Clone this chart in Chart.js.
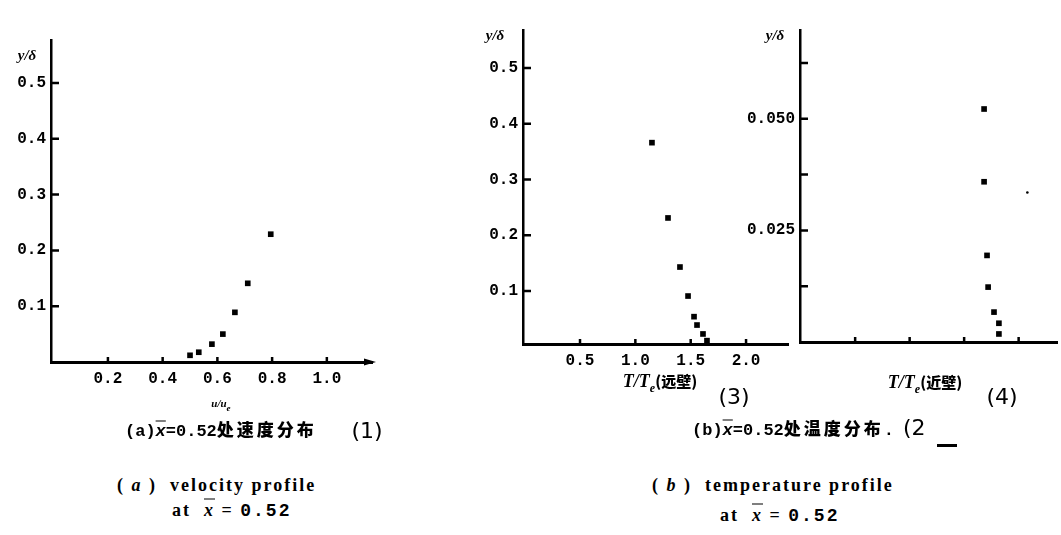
<!DOCTYPE html>
<html>
<head>
<meta charset="utf-8">
<script src="https://cdn.jsdelivr.net/npm/chart.js@4"></script>
<style>
    body { margin: 0; background: #fff; }
    #fig { position: relative; width: 1061px; height: 535px; overflow: hidden; background: #fff; }
    #fig canvas { position: absolute; top: 0; }
    .t { position: absolute; white-space: nowrap; color: #000; line-height: 1; transform: translateY(-50%); }
    .c { transform: translate(-50%, -50%); }
    .lab { font: bold italic 15px "Liberation Serif", serif; }
    .cap { font: bold 17px "Liberation Mono", monospace; }
    .cjk { font-family: "Noto Sans CJK SC", sans-serif; font-weight: 900; font-style: normal; }
    .cap .cjk { letter-spacing: 3px; }
    .num { font: 22px "DejaVu Sans", sans-serif; }
    .eng { font: bold 18px "Liberation Serif", serif; letter-spacing: 2px; }
    .ov { text-decoration: overline; font-style: italic; }
</style>
</head>
<body>
<div id="fig">
    <canvas id="velChart" width="385" height="400" style="left:0px"></canvas>
    <canvas id="farChart" width="365" height="400" style="left:430px"></canvas>
    <canvas id="nearChart" width="361" height="400" style="left:700px"></canvas>

    <div class="t c lab" style="left:27px; top:55px">y/δ</div>
    <div class="t c lab" style="left:495px; top:35px">y/δ</div>
    <div class="t c lab" style="left:775px; top:35px">y/δ</div>

    <div class="t c lab" style="left:221px; top:405px; font-size:11px">u/u<sub>e</sub></div>
    <div class="t cap" style="left:125px; top:428px">(a)<span class="ov">x</span>=0.52<span class="cjk">处速度分布</span></div>
    <div class="t c num" style="left:367px; top:430px">(1)</div>
    <div class="t eng" style="left:117px; top:485px">( <i>a</i> )&nbsp; velocity profile</div>
    <div class="t eng" style="left:172px; top:510px">at&nbsp; <span class="ov">x</span> = <span style="font-family:'Liberation Mono',monospace">0.52</span></div>

    <div class="t c lab" style="left:660px; top:383px; font-size:18px">T/T<sub style="font-size:12px">e</sub><span class="cjk" style="font-size:15px">(远壁)</span></div>
    <div class="t c num" style="left:734px; top:396px">(3)</div>
    <div class="t c lab" style="left:925px; top:384px; font-size:18px">T/T<sub style="font-size:12px">e</sub><span class="cjk" style="font-size:15px">(近壁)</span></div>
    <div class="t c num" style="left:1002px; top:396px">(4)</div>

    <div class="t cap" style="left:692px; top:427px">(b)<span class="ov">x</span>=0.52<span class="cjk">处温度分布</span>.</div>
    <div class="t num" style="left:903px; top:427px">(2</div>
    <div style="position:absolute; left:937px; top:444px; width:20px; height:3px; background:#000"></div>
    <div class="t eng" style="left:652px; top:485px">( <i>b</i> )&nbsp; temperature profile</div>
    <div class="t eng" style="left:720px; top:515px">at&nbsp; <span class="ov">x</span> = <span style="font-family:'Liberation Mono',monospace">0.52</span></div>
</div>

<script>
// (a) velocity profile, u/ue against y/delta
const velU = [0.50, 0.532, 0.58, 0.62, 0.664, 0.711, 0.795];
const velY = [0.012, 0.0175, 0.032, 0.05, 0.089, 0.141, 0.229];
const velXTicks = [0.2, 0.4, 0.6, 0.8, 1.0];
const velXLabels = ["0.2", "0.4", "0.6", "0.8", "1.0"];
const velYTicks = [0.1, 0.2, 0.3, 0.4, 0.5];
const velYLabels = ["0.1", "0.2", "0.3", "0.4", "0.5"];

// (b) temperature profile, far from wall
const farT = [1.15, 1.295, 1.403, 1.476, 1.53, 1.557, 1.611, 1.647];
const farY = [0.366, 0.231, 0.143, 0.091, 0.054, 0.039, 0.023, 0.011];
const farXTicks = [0.5, 1.0, 1.5, 2.0];
const farXLabels = ["0.5", "1.0", "1.5", "2.0"];
const farYTicks = [0.1, 0.2, 0.3, 0.4, 0.5];
const farYLabels = ["0.1", "0.2", "0.3", "0.4", "0.5"];

// (b) temperature profile, near the wall
const nearT = [1.683, 1.683, 1.71, 1.72, 1.774, 1.819, 1.819];
const nearY = [0.0522, 0.0359, 0.0194, 0.0123, 0.0067, 0.0042, 0.0018];
const nearStrayT = [2.08];
const nearStrayY = [0.0335];
const nearXTicks = [0.5, 1.0, 1.5, 2.0];
const nearXLabels = ["", "", "", ""];
const nearYTicks = [0.0125, 0.025, 0.0375, 0.05, 0.0625];
const nearYLabels = ["", "0.025", "", "0.050", ""];

const tickFont = { family: "Liberation Mono", size: 16, weight: "bold" };

function toPoints(xs, ys) {
    return xs.map((x, i) => ({ x, y: ys[i] }));
}

// ticks drawn inward from the axes, as in the printed figure
const innerTicks = {
    id: "innerTicks",
    afterDraw(chart, args, opts) {
        const { ctx, chartArea } = chart;
        const xs = chart.scales.x;
        const ys = chart.scales.y;
        ctx.save();
        ctx.strokeStyle = "#000";
        ctx.lineWidth = 2.5;
        ctx.beginPath();
        for (const t of ys.ticks) {
            const py = ys.getPixelForValue(t.value);
            ctx.moveTo(chartArea.left, py);
            ctx.lineTo(chartArea.left + 8, py);
        }
        for (const t of xs.ticks) {
            const px = xs.getPixelForValue(t.value);
            ctx.moveTo(px, chartArea.bottom);
            ctx.lineTo(px, chartArea.bottom - 5);
        }
        ctx.stroke();
        if (opts.arrow) {
            const ay = chartArea.bottom;
            const ax = chartArea.right;
            ctx.fillStyle = "#000";
            ctx.beginPath();
            ctx.moveTo(ax + 4, ay);
            ctx.lineTo(ax - 8, ay - 3.5);
            ctx.lineTo(ax - 8, ay + 3.5);
            ctx.closePath();
            ctx.fill();
        }
        ctx.restore();
    },
};

function axis(range, tickVals, tickLabels, size, isX) {
    return {
        type: "linear",
        min: range[0],
        max: range[1],
        grid: { display: true, drawOnChartArea: false, drawTicks: false },
        border: { display: true, color: "#000", width: isX ? 3 : 2.5 },
        ticks: {
            color: "#000",
            font: tickFont,
            padding: isX ? 7 : 5,
            autoSkip: false,
            maxRotation: 0,
            callback: (value, index) => tickLabels[index],
        },
        afterBuildTicks: (scale) => {
            scale.ticks = tickVals.map((v) => ({ value: v }));
        },
        afterFit: (scale) => {
            if (isX) {
                scale.height = size;
            } else {
                scale.width = size;
            }
        },
    };
}

function makeChart(id, datasets, opts) {
    const ctx = document.getElementById(id).getContext("2d");
    return new Chart(ctx, {
        type: "scatter",
        data: { datasets },
        options: {
            responsive: false,
            animation: false,
            layout: { padding: opts.padding },
            plugins: {
                legend: { display: false },
                tooltip: { enabled: false },
                innerTicks: { arrow: !!opts.arrow },
            },
            scales: {
                x: axis(opts.xRange, opts.xTicks, opts.xLabels, opts.xHeight, true),
                y: axis(opts.yRange, opts.yTicks, opts.yLabels, opts.yWidth, false),
            },
        },
        plugins: [innerTicks],
    });
}

const marker = {
    pointStyle: "rect",
    pointRadius: 4,
    backgroundColor: "#000",
    borderColor: "#000",
    borderWidth: 0,
    showLine: false,
};

makeChart("velChart", [{ ...marker, data: toPoints(velU, velY) }], {
    padding: { top: 40, right: 13, bottom: 0, left: 0 },
    xRange: [-0.008, 1.165],
    yRange: [0, 0.577],
    xTicks: velXTicks,
    xLabels: velXLabels,
    yTicks: velYTicks,
    yLabels: velYLabels,
    xHeight: 38,
    yWidth: 51,
    arrow: true,
});

makeChart("farChart", [{ ...marker, data: toPoints(farT, farY) }], {
    padding: { top: 30, right: 7, bottom: 0, left: 0 },
    xRange: [-0.015, 2.379],
    yRange: [0.005, 0.568],
    xTicks: farXTicks,
    xLabels: farXLabels,
    yTicks: farYTicks,
    yLabels: farYLabels,
    xHeight: 56,
    yWidth: 93,
});

makeChart("nearChart", [
    { ...marker, data: toPoints(nearT, nearY) },
    { ...marker, pointStyle: "circle", pointRadius: 1.3, data: toPoints(nearStrayT, nearStrayY) },
], {
    padding: { top: 30, right: 0, bottom: 0, left: 0 },
    xRange: [-0.006, 2.352],
    yRange: [0, 0.0699],
    xTicks: nearXTicks,
    xLabels: nearXLabels,
    yTicks: nearYTicks,
    yLabels: nearYLabels,
    xHeight: 58,
    yWidth: 100,
});
</script>
</body>
</html>
